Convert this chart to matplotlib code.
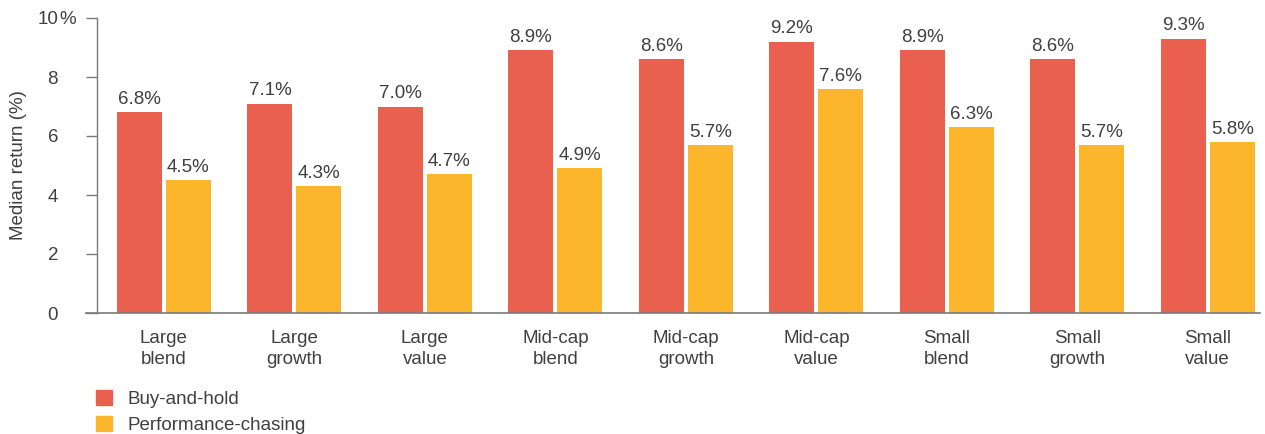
import numpy as np
import matplotlib
matplotlib.use("Agg")
import matplotlib.pyplot as plt
from matplotlib.patches import Patch

# Data
categories = ["Large\nblend", "Large\ngrowth", "Large\nvalue",
              "Mid-cap\nblend", "Mid-cap\ngrowth", "Mid-cap\nvalue",
              "Small\nblend", "Small\ngrowth", "Small\nvalue"]
buy_and_hold = [6.8, 7.1, 7.0, 8.9, 8.6, 9.2, 8.9, 8.6, 9.3]
perf_chasing = [4.5, 4.3, 4.7, 4.9, 5.7, 7.6, 6.3, 5.7, 5.8]
y_ticks = [0, 2, 4, 6, 8, 10]

red = "#E9604F"
yellow = "#FBB62B"
text_col = "#404040"
axis_col = "#7a7a7a"
fs = 13.5

plt.rcParams["font.family"] = ["Liberation Sans", "DejaVu Sans"]
plt.rcParams["font.size"] = fs

fig = plt.figure(figsize=(12.65, 4.34), dpi=100)
# axes left edge at 86px so the baseline runs past the y axis
ax = fig.add_axes([86 / 1265, 1 - 313 / 434, (1260 - 86) / 1265, (313 - 18) / 434])

x = np.arange(len(categories))
w = 45 / 130.5
gap = 4 / 130.5
off = (w + gap) / 2
ax.bar(x - off, buy_and_hold, width=w, color=red, label="Buy-and-hold")
ax.bar(x + off, perf_chasing, width=w, color=yellow, label="Performance-chasing")

for i in range(len(categories)):
    ax.annotate(f"{buy_and_hold[i]:.1f}%", (x[i] - off, buy_and_hold[i]),
                xytext=(0, 3), textcoords="offset points", ha="center", va="bottom",
                color=text_col, fontsize=fs)
    ax.annotate(f"{perf_chasing[i]:.1f}%", (x[i] + off, perf_chasing[i]),
                xytext=(0, 3), textcoords="offset points", ha="center", va="bottom",
                color=text_col, fontsize=fs)

left_spine = -0.513
ax.set_xlim(left_spine - 11 / 130.5, 8.40)
ax.set_ylim(0, 10)

for s in ["top", "right"]:
    ax.spines[s].set_visible(False)
ax.spines["left"].set_position(("data", left_spine))
ax.spines["left"].set_color(axis_col)
ax.spines["bottom"].set_color(axis_col)
ax.spines["left"].set_linewidth(1)
ax.spines["bottom"].set_linewidth(1.2)

tick_len, tick_pad = 8, 20
ax.set_yticks(y_ticks)
ax.set_yticklabels([str(t) for t in y_ticks])
ax.tick_params(axis="y", length=tick_len, width=1, color=axis_col, pad=tick_pad,
               labelcolor=text_col, labelsize=fs)
# "%" hangs after the top tick label
ax.annotate("%", (left_spine, y_ticks[-1]), xytext=(-(tick_len + tick_pad) + 1, 0),
            textcoords="offset points", ha="left", va="center_baseline",
            color=text_col, fontsize=fs)

ax.set_xticks(x)
ax.set_xticklabels(categories, linespacing=1.35)
ax.tick_params(axis="x", length=0, pad=12, labelcolor=text_col, labelsize=fs)

ax.set_ylabel("Median return (%)", color=text_col, fontsize=fs)
ax.yaxis.set_label_coords((27 - 86) / 1174, 0.5)

handles = [Patch(color=red, label="Buy-and-hold"),
           Patch(color=yellow, label="Performance-chasing")]
fig.legend(handles=handles, loc="upper left", bbox_to_anchor=(92 / 1265, 1 - 386 / 434),
           frameon=False, handlelength=0.85, handleheight=0.85, handletextpad=0.85,
           labelspacing=0.45, fontsize=fs, labelcolor=text_col, borderaxespad=0,
           borderpad=0.2)

fig.savefig("out.png", dpi=100, facecolor="white")
